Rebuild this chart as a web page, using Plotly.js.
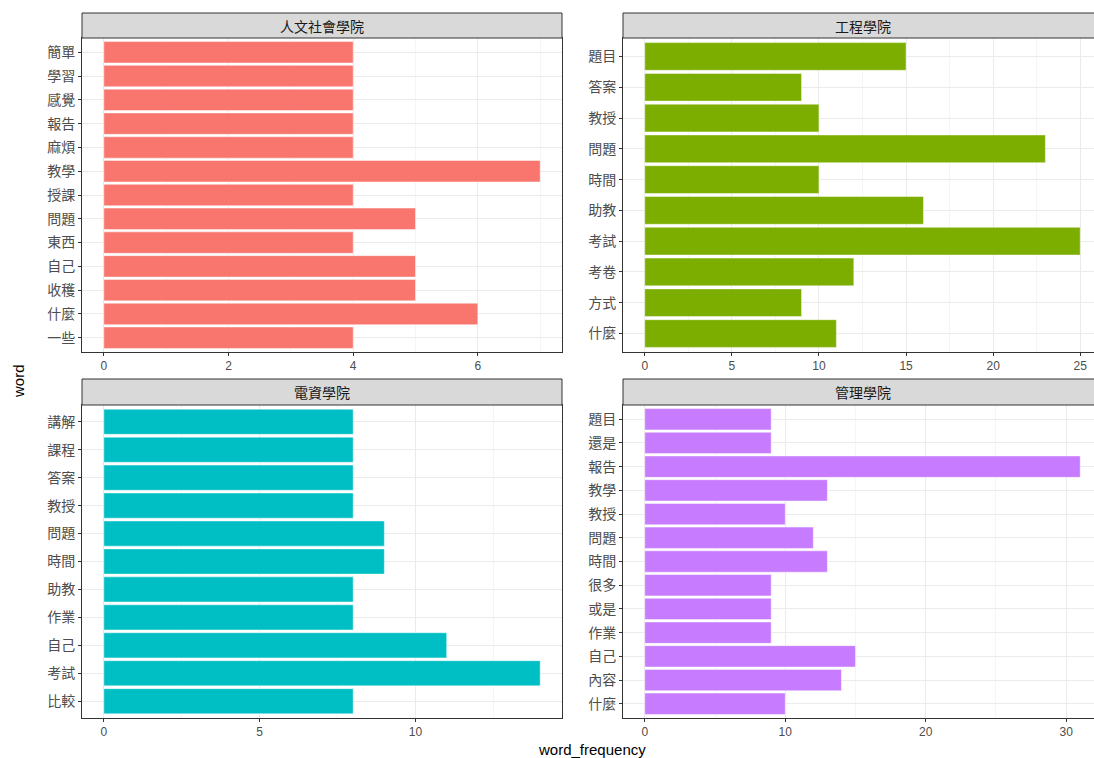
<!DOCTYPE html>
<html>
<head>
<meta charset="utf-8">
<script src="https://cdn.plot.ly/plotly-3.0.1.min.js"></script>
<style>html,body{margin:0;padding:0;background:#fff;overflow:hidden;}#chart{width:1103px;height:758px;}</style>
</head>
<body>
<div id="chart"></div>
<script>
// Data (categories listed bottom to top)
const facetNames = ["人文社會學院", "工程學院", "電資學院", "管理學院"];
const wordsHum = ["一些","什麼","收穫","自己","東西","問題","授課","教學","麻煩","報告","感覺","學習","簡單"];
const freqHum  = [4, 6, 5, 5, 4, 5, 4, 7, 4, 4, 4, 4, 4];
const wordsEng = ["什麼","方式","考卷","考試","助教","時間","問題","教授","答案","題目"];
const freqEng  = [11, 9, 12, 25, 16, 10, 23, 10, 9, 15];
const wordsEE  = ["比較","考試","自己","作業","助教","時間","問題","教授","答案","課程","講解"];
const freqEE   = [8, 14, 11, 8, 8, 9, 9, 8, 8, 8, 8];
const wordsMgt = ["什麼","內容","自己","作業","或是","很多","時間","問題","教授","教學","報告","還是","題目"];
const freqMgt  = [10, 14, 15, 9, 9, 9, 13, 12, 10, 13, 31, 9, 9];
const xTicksHum = [0, 2, 4, 6];
const xTicksEng = [0, 5, 10, 15, 20, 25];
const xTicksEE  = [0, 5, 10];
const xTicksMgt = [0, 10, 20, 30];
const colors = ["#F8766D", "#7CAE00", "#00BFC4", "#C77CFF"];

// the reference figure is cropped on the right: the canvas is slightly wider than the window
const W = 1103, H = 758;
const panels = [
  {words: wordsHum, freq: freqHum, ticks: xTicksHum, minor: 1,   px: [82, 562],  py: [38, 352],  strip: [13, 38]},
  {words: wordsEng, freq: freqEng, ticks: xTicksEng, minor: 2.5, px: [623, 1102], py: [38, 352],  strip: [13, 38]},
  {words: wordsEE,  freq: freqEE,  ticks: xTicksEE,  minor: 2.5, px: [82, 562],  py: [405, 718], strip: [379, 405]},
  {words: wordsMgt, freq: freqMgt, ticks: xTicksMgt, minor: 5,   px: [623, 1102], py: [405, 718], strip: [379, 405]}
];

const cjk = '"Noto Sans CJK TC", "Noto Sans CJK SC", sans-serif';
const sans = '"Liberation Sans", Arial, sans-serif';

const traces = [];
const layout = {
  width: W, height: H,
  margin: {l: 0, r: 0, t: 0, b: 0},
  paper_bgcolor: "#ffffff",
  plot_bgcolor: "#ffffff",
  showlegend: false,
  bargap: 0.1,
  shapes: [],
  annotations: []
};

panels.forEach((p, i) => {
  const n = i + 1;
  const xa = n === 1 ? "x" : "x" + n;
  const ya = n === 1 ? "y" : "y" + n;
  traces.push({
    type: "bar",
    orientation: "h",
    x: p.freq,
    y: p.words,
    xaxis: xa, yaxis: ya,
    marker: {color: colors[i], line: {color: "rgba(255,255,255,0.45)", width: 1}},
    hoverinfo: "x+y"
  });
  const maxv = Math.max(...p.freq);
  const xdom = [p.px[0] / W, p.px[1] / W];
  const ydom = [1 - p.py[1] / H, 1 - p.py[0] / H];
  layout["xaxis" + (n === 1 ? "" : n)] = {
    domain: xdom,
    anchor: ya,
    range: [-0.05 * maxv, 1.05 * maxv],
    tickvals: p.ticks,
    ticktext: p.ticks.map(String),
    ticks: "outside", ticklen: 3, tickcolor: "#333333", tickwidth: 1,
    showline: true, mirror: true, linecolor: "#333333", linewidth: 1,
    showgrid: true, gridcolor: "#ebebeb", gridwidth: 1,
    minor: {dtick: p.minor, tick0: 0, showgrid: true, gridcolor: "#f5f5f5", gridwidth: 1, ticks: ""},
    zeroline: false,
    tickfont: {family: sans, size: 12, color: "#4d4d4d"},
    fixedrange: true
  };
  layout["yaxis" + (n === 1 ? "" : n)] = {
    domain: ydom,
    anchor: xa,
    type: "category",
    categoryorder: "array",
    categoryarray: p.words,
    range: [-0.6, p.words.length - 0.4],
    ticks: "outside", ticklen: 3, tickcolor: "#333333", tickwidth: 1,
    showline: true, mirror: true, linecolor: "#333333", linewidth: 1,
    showgrid: true, gridcolor: "#ebebeb", gridwidth: 1,
    zeroline: false,
    tickfont: {family: cjk, size: 14, color: "#4d4d4d"},
    fixedrange: true
  };
  // strip
  layout.shapes.push({
    type: "rect", xref: "paper", yref: "paper",
    x0: p.px[0] / W, x1: p.px[1] / W,
    y0: 1 - p.strip[1] / H, y1: 1 - p.strip[0] / H,
    fillcolor: "#d9d9d9", line: {color: "#333333", width: 1}, layer: "above"
  });
  layout.annotations.push({
    xref: "paper", yref: "paper",
    x: (p.px[0] + p.px[1]) / 2 / W, y: 1 - (p.strip[0] + p.strip[1]) / 2 / H,
    xanchor: "center", yanchor: "middle",
    text: facetNames[i], showarrow: false,
    font: {family: cjk, size: 14, color: "#1a1a1a"}
  });
});

layout.annotations.push({
  xref: "paper", yref: "paper",
  x: 592 / W, y: 1 - 749 / H, xanchor: "center", yanchor: "middle",
  text: "word_frequency", showarrow: false,
  font: {family: sans, size: 15, color: "#000000"}
});
layout.annotations.push({
  xref: "paper", yref: "paper",
  x: 18 / W, y: 1 - 381 / H, xanchor: "center", yanchor: "middle",
  text: "word", showarrow: false, textangle: -90,
  font: {family: sans, size: 15, color: "#000000"}
});

Plotly.newPlot("chart", traces, layout, {displayModeBar: false, staticPlot: true});
</script>
</body>
</html>
